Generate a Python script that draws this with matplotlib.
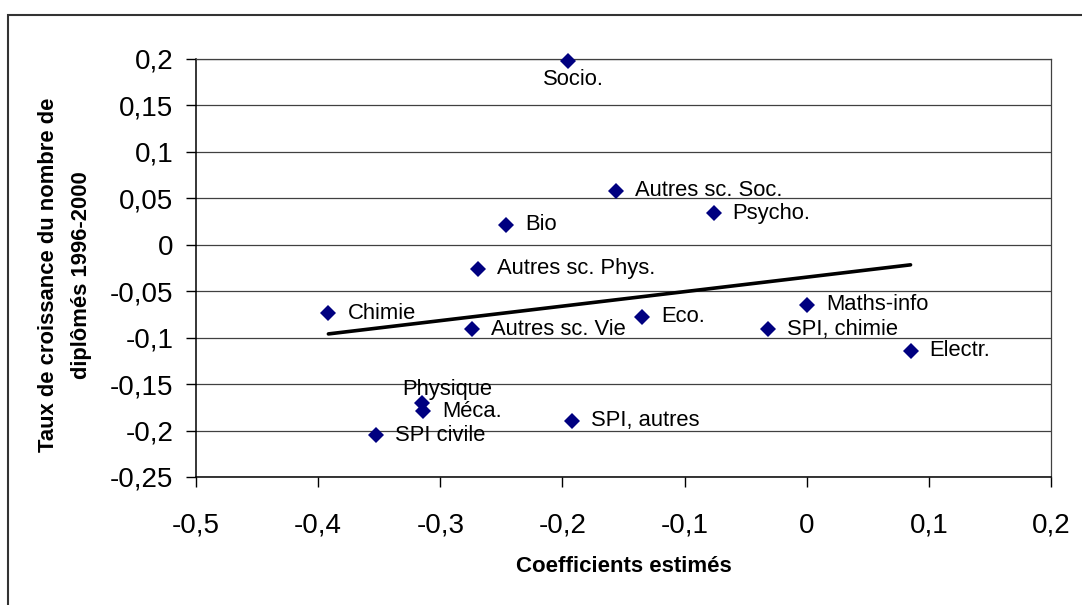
import matplotlib
matplotlib.use("Agg")
import matplotlib.pyplot as plt
import numpy as np
from matplotlib.patches import Rectangle
from matplotlib.ticker import MultipleLocator, FuncFormatter

# values
fields = ["Socio.", "Autres sc. Soc.", "Psycho.", "Bio", "Autres sc. Phys.",
          "Chimie", "Autres sc. Vie", "Eco.", "SPI, chimie", "Maths-info",
          "Electr.", "Physique", "Méca.", "SPI, autres", "SPI civile"]
coef = [-0.1956, -0.1563, -0.0763, -0.2464, -0.2693,
        -0.3916, -0.2737, -0.1350, -0.0318, 0.0006,
        0.0850, -0.3152, -0.3138, -0.1923, -0.3528]
growth = [0.198, 0.0579, 0.0339, 0.0213, -0.0257,
          -0.0738, -0.0907, -0.0774, -0.0910, -0.0648,
          -0.1140, -0.1700, -0.1790, -0.1897, -0.2048]

plt.rcParams["font.family"] = ["Liberation Sans", "DejaVu Sans"]

W, H = 1082, 605
fig = plt.figure(figsize=(W / 100, H / 100), dpi=100)
ax = fig.add_axes([196 / W, 1 - 477 / H, (1051 - 196) / W, (477 - 59) / H])

# outer chart frame (cut off at the right and bottom of the picture)
fig.patches.append(Rectangle((8 / W, -0.1), 1.2, 1.1 - 15 / H,
                             transform=fig.transFigure, fill=False,
                             ec="#333333", lw=1.5))

ax.set_xlim(-0.5, 0.2)
ax.set_ylim(-0.25, 0.2)
ax.xaxis.set_major_locator(MultipleLocator(0.1))
ax.yaxis.set_major_locator(MultipleLocator(0.05))
fmt = FuncFormatter(lambda v, p: ("%g" % (round(v, 2) + 0.0)).replace(".", ","))
ax.xaxis.set_major_formatter(fmt)
ax.yaxis.set_major_formatter(fmt)

ax.yaxis.grid(True, color="#404040", lw=0.9)
ax.set_axisbelow(True)
for side in ("top", "right"):
    ax.spines[side].set_color("#404040")
    ax.spines[side].set_linewidth(0.9)
for side in ("left", "bottom"):
    ax.spines[side].set_color("black")
    ax.spines[side].set_linewidth(1.1)

ax.tick_params(axis="both", direction="out", length=7.2, width=1,
               labelsize=20)
ax.tick_params(axis="x", pad=18.5)
ax.tick_params(axis="y", pad=9)

ax.plot(coef, growth, ls="none", marker="D", ms=8, color="#000080",
        mew=0, zorder=3, clip_on=False)

# linear trend
slope, icpt = np.polyfit(coef, growth, 1)
xt = np.array([min(coef), max(coef)])
ax.plot(xt, slope * xt + icpt, color="black", lw=2.6,
        solid_capstyle="round", zorder=2)

special = {"Socio.": ((6, -19), "center"), "Physique": ((26, 13), "center")}
for name, x, y in zip(fields, coef, growth):
    off, ha = special.get(name, ((19, 0), "left"))
    ax.annotate(name, (x, y), xytext=off, textcoords="offset pixels",
                ha=ha, va="center", fontsize=15.8, zorder=4)

fig.text(623.5 / W, 1 - 567 / H, "Coefficients estimés", ha="center",
         va="center", fontsize=16, fontweight="bold")
fig.text(65 / W, 1 - 275 / H,
         "Taux de croissance du nombre de\ndiplômés 1996-2000",
         ha="center", va="center", rotation=90, multialignment="center",
         fontsize=15.8, fontweight="bold", linespacing=1.7)

fig.savefig("out.png", dpi=100)
